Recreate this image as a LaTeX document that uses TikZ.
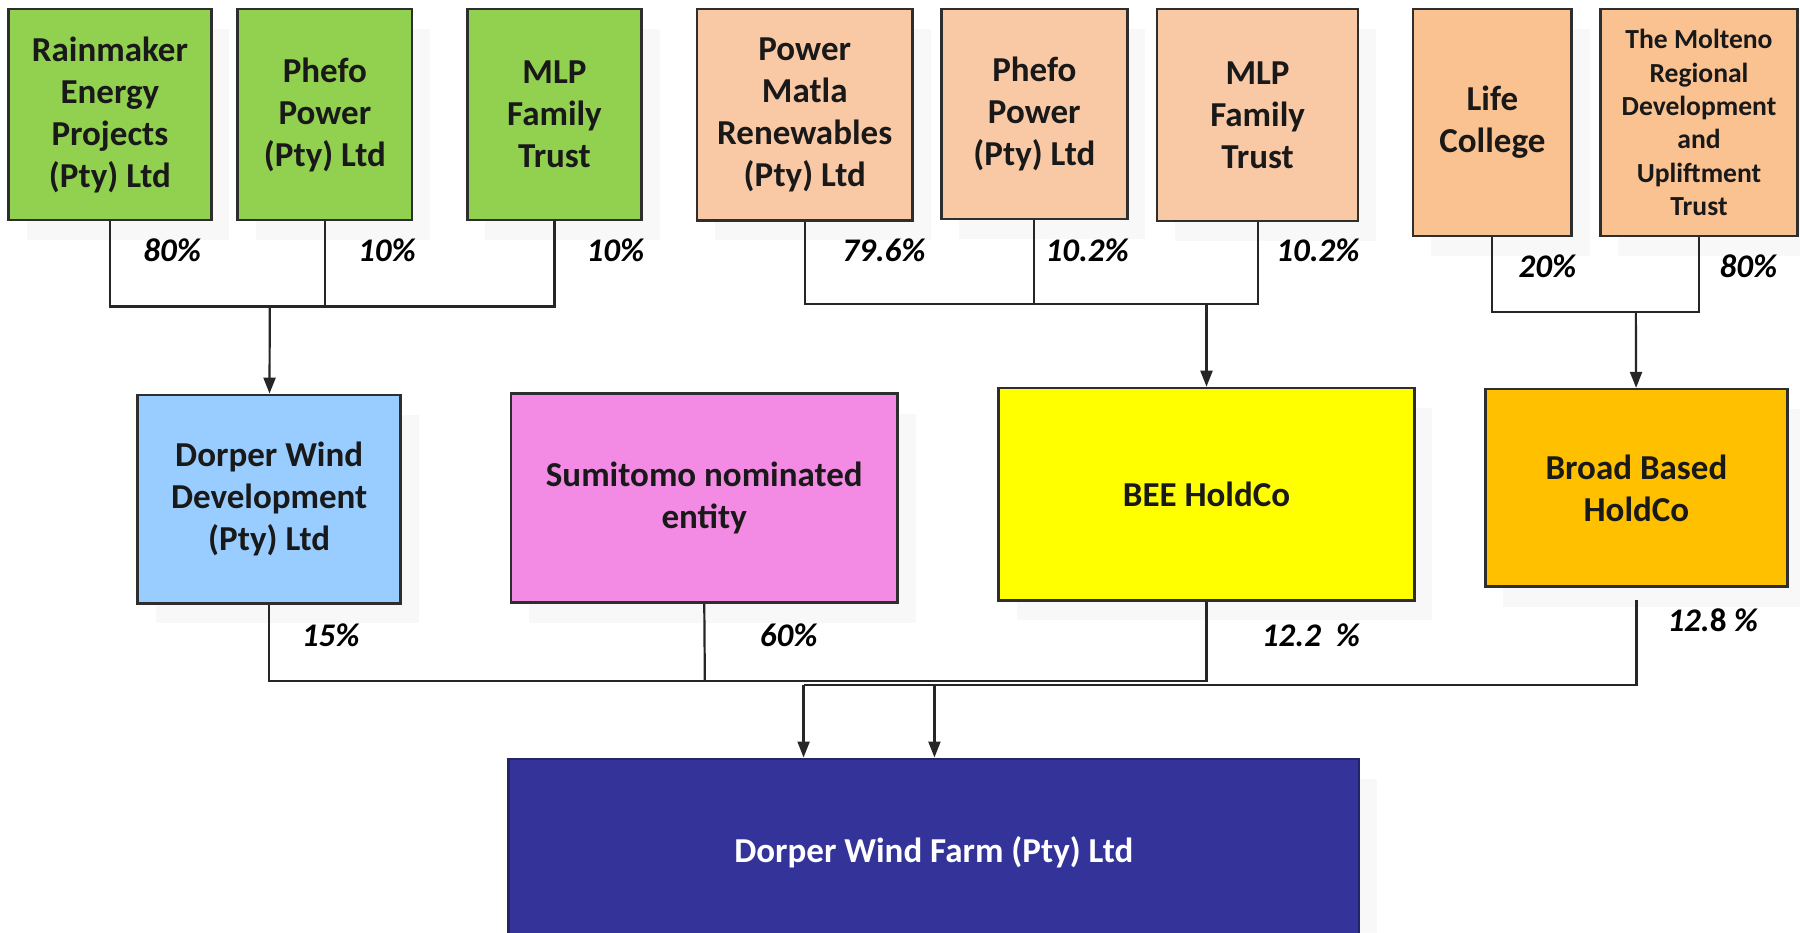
\documentclass[tikz,border=0pt]{standalone}
\usepackage{fontspec}
\setmainfont{Carlito}
\usetikzlibrary{arrows.meta,shadows}

\newcommand{\pxu}{0.574pt}
\definecolor{grassgreen}{HTML}{92D050}
\definecolor{peachA}{HTML}{F9C9A6}
\definecolor{peachB}{HTML}{FAC291}
\definecolor{skyblue}{HTML}{99CCFF}
\definecolor{orchid}{HTML}{F38AE4}
\definecolor{lemon}{HTML}{FFFF00}
\definecolor{amber}{HTML}{FFC000}
\definecolor{navy}{HTML}{333399}
\definecolor{boxline}{HTML}{2E2E2E}

\begin{document}
\begin{tikzpicture}[x=\pxu,y=-\pxu,>={Triangle[length=8pt,width=6pt]},line width=1.1pt,draw=black!85,
        party/.style={rectangle,draw=boxline,line width=1.3pt,inner sep=2pt,align=center,
          text=black!90,font=\fontsize{17.5}{21}\selectfont\bfseries,
          drop shadow={shadow xshift=9pt,shadow yshift=-10pt,opacity=0.05}},
        boxsize/.style 2 args={minimum width=#1*\pxu,minimum height=#2*\pxu},
        share/.style={font=\fontsize{16.5}{20}\selectfont\bfseries\itshape}]
        \path[use as bounding box,fill=white] (0,0) rectangle (1568,812);

        % shareholders, top row
        \node[party,fill=grassgreen,boxsize={176.5}{183.6}] (rain) at (95.75,99.8) {Rainmaker\\Energy\\Projects\\(Pty) Ltd};
        \node[party,fill=grassgreen,boxsize={152}{183.6}] (phefoA) at (283,99.8) {Phefo\\Power\\(Pty) Ltd};
        \node[party,fill=grassgreen,boxsize={152}{183.6}] (mlpA) at (483,99.8) {MLP\\Family\\Trust};
        \node[party,fill=peachA,boxsize={188}{184}] (matla) at (701,100) {Power\\Matla\\Renewables\\(Pty) Ltd};
        \node[party,fill=peachA,boxsize={162}{182.8}] (phefoB) at (901,99.4) {Phefo\\Power\\(Pty) Ltd};
        \node[party,fill=peachA,boxsize={175}{184.5}] (mlpB) at (1095.5,100.2) {MLP\\Family\\Trust};
        \node[party,fill=peachB,boxsize={138}{197.6}] (life) at (1300,106.8) {Life\\College};
        \node[party,fill=peachB,boxsize={172}{197.6},font=\fontsize{13.8}{16.7}\selectfont\bfseries] (molteno) at (1480,106.8)
            {The Molteno\\Regional\\Development\\and\\Upliftment\\Trust};

        % holding companies
        \node[party,fill=skyblue,boxsize={229}{181.5}] (dev) at (234.5,434.75) {Dorper Wind\\Development\\(Pty) Ltd};
        \node[party,fill=orchid,boxsize={337}{182}] (sumi) at (613.5,434) {Sumitomo nominated\\entity};
        \node[party,fill=lemon,boxsize={362}{185}] (bee) at (1051,430.5) {BEE HoldCo};
        \node[party,fill=amber,boxsize={263}{172}] (bbh) at (1425.5,425) {Broad Based\\HoldCo};

        % project company
        \node[party,fill=navy,draw=navy!70!black,text=white,boxsize={741}{162}] (farm) at (813.5,742) {Dorper Wind Farm (Pty) Ltd};

        \coordinate (b1) at (235,267);
        \coordinate (b2) at (1051,265);
        \coordinate (b3) at (1425,272);
        \coordinate (j0) at (614,593);
        \coordinate (j1) at (700,597);
        \coordinate (j2) at (814,597);

        \draw (rain.south) |- (b1) -| (mlpA.south);
        \draw (phefoA.south) -- (phefoA.south |- b1);
        \draw[->] (b1) -- (dev);
        \draw (matla.south) |- (b2) -| (mlpB.south);
        \draw (phefoB.south) -- (phefoB.south |- b2);
        \draw[->] (b2) -- (bee);
        \draw (life.south) |- (b3) -| (molteno.south);
        \draw[->] (b3) -- (bbh);

        \draw (dev.south) |- (j0) -| (bee.south);
        \draw (sumi.south) -- (j0);
        \draw[shorten <=6pt] (bbh.south) |- (j1);
        \draw[->] (j1) -- (j1 |- farm.north);
        \draw[->] (j2) -- (j2 |- farm.north);

        % percentages
        \node[share] (s1) at (150,218) {80\%};
        \node[share] (s2) at (337,218) {10\%};
        \node[share] (s3) at (536,218) {10\%};
        \node[share] (s4) at (770,218) {79.6\%};
        \node[share] (s5) at (947,218) {10.2\%};
        \node[share] (s6) at (1148,218) {10.2\%};
        \node[share] (s7) at (1348,232) {20\%};
        \node[share] (s8) at (1523,232) {80\%};
        \node[share] (s9) at (288,553) {15\%};
        \node[share] (s10) at (687,553) {60\%};
        \node[share] (s11) at (1142,553) {12.2\ \ \%};
        \node[share] (s12) at (1492,540) {12.{\upshape 8} \%};
\end{tikzpicture}
\end{document}
